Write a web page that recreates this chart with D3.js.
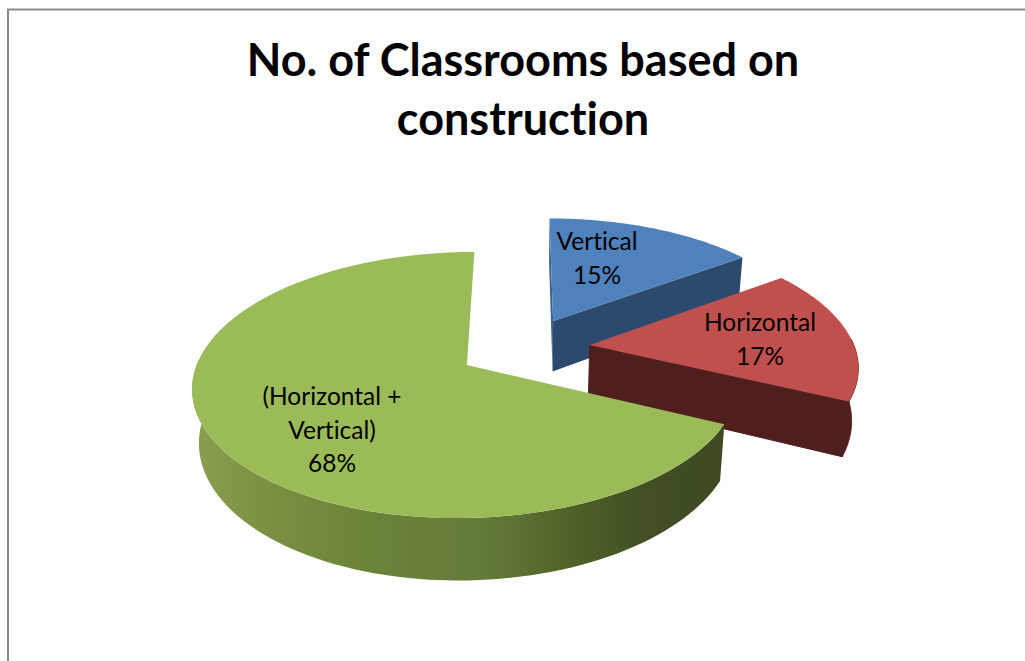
<!DOCTYPE html>
<html>
<head>
<meta charset="utf-8">
<script src="https://cdnjs.cloudflare.com/ajax/libs/d3/7.8.5/d3.min.js"></script>
<style>
  html, body { margin: 0; padding: 0; background: #fff; overflow: hidden; }
  text { font-family: Lato, "Open Sans", sans-serif; fill: #000; font-variant-ligatures: none; }
</style>
</head>
<body>
<div id="chart"></div>
<script>
const categories = ["Vertical", "Horizontal", "(Horizontal + Vertical)"];
const values = [15, 17, 68];
const titleLines = ["No. of Classrooms based on", "construction"];
const labelLines = [["Vertical"], ["Horizontal"], ["(Horizontal +", "Vertical)"]];
const topColors = ["#4f81bd", "#c0504d", "#9bbb59"];
const wallColors = ["#2c4a6e", "#4f1f1e", "#5f7535"];

const width = 1025, height = 661;

// 3D look of the pie
const cx = 524, cy = 348, rx = 265, ry = 125;
const persp = 0.147, depth = 52, shrink = 0.02, explode = 0.25;

const svg = d3.select("#chart").append("svg")
  .attr("width", width)
  .attr("height", height);

// frame, only top and left side are in the picture
svg.append("path")
  .attr("d", `M8,${height} V9.5 H${width}`)
  .attr("fill", "none")
  .attr("stroke", "#8a8a8a")
  .attr("stroke-width", 2);

svg.selectAll(".title")
  .data(titleLines)
  .enter()
  .append("text")
  .attr("class", "title")
  .attr("x", 523)
  .attr("y", (d, i) => 76 + i * 59)
  .attr("text-anchor", "middle")
  .style("font-size", "45px")
  .style("font-weight", "bold")
  .text(d => d);

const defs = svg.append("defs");
const greenWall = defs.append("linearGradient")
  .attr("id", "greenWall")
  .attr("gradientUnits", "userSpaceOnUse")
  .attr("x1", 190).attr("x2", 725)
  .attr("y1", 0).attr("y2", 0);
[[0, "#8ba050"], [0.1, "#7f9545"], [0.3, "#6d843a"], [0.55, "#647a38"], [0.7, "#506429"], [0.85, "#414f23"], [1, "#3d4a20"]]
  .forEach(s => greenWall.append("stop").attr("offset", s[0]).attr("stop-color", s[1]));

function project(u, v, z) {
  const s = 1 / (1 - persp * v);
  return [cx + rx * u * s / (1 + shrink * z * s), cy + (ry * v + depth * z) * s];
}

const slices = d3.pie().sort(null)(values);
const line = d3.line();

slices.forEach(d => {
  const mid = (d.startAngle + d.endAngle) / 2;
  d.u0 = explode * Math.sin(mid);
  d.v0 = -explode * Math.cos(mid);
});

function rim(d, a) {
  return [d.u0 + Math.sin(a), d.v0 - Math.cos(a)];
}

function arcPoints(d, a0, a1, z) {
  return d3.range(0, 81).map(i => {
    const p = rim(d, a0 + (a1 - a0) * i / 80);
    return project(p[0], p[1], z);
  });
}

function cutFace(d, a) {
  const p = rim(d, a);
  return [
    project(d.u0, d.v0, 0),
    project(p[0], p[1], 0),
    project(p[0], p[1], 1),
    project(d.u0, d.v0, 1)
  ];
}

function outerWall(d, a0, a1) {
  return arcPoints(d, a0, a1, 0).concat(arcPoints(d, a1, a0, 1));
}

const pieG = svg.append("g");

// blue: far slice first, only the cut side shows
pieG.append("path")
  .attr("d", line(cutFace(slices[0], slices[0].startAngle)) + "Z")
  .attr("fill", "#3c6290");
pieG.append("path")
  .attr("d", line(cutFace(slices[0], slices[0].endAngle)) + "Z")
  .attr("fill", wallColors[0]);

// red: front cut and the rim after the rightmost point
pieG.append("path")
  .attr("d", line(outerWall(slices[1], Math.PI / 2 - 0.05, slices[1].endAngle)) + "Z")
  .attr("fill", wallColors[1])
  .attr("stroke", wallColors[1]);
pieG.append("path")
  .attr("d", line(cutFace(slices[1], slices[1].endAngle)) + "Z")
  .attr("fill", wallColors[1])
  .attr("stroke", wallColors[1]);

// green: rim from the cut on the right round to the leftmost point
pieG.append("path")
  .attr("d", line(outerWall(slices[2], slices[2].startAngle, Math.PI * 1.5 + 0.05)) + "Z")
  .attr("fill", "url(#greenWall)");

// tops, drawn in same far to near order but green must cover red wall
[0, 1, 2].forEach(i => {
  const d = slices[i];
  const pts = [project(d.u0, d.v0, 0)].concat(arcPoints(d, d.startAngle, d.endAngle, 0));
  pieG.append("path")
    .attr("d", line(pts) + "Z")
    .attr("fill", topColors[i]);
});

// labels
const labelPos = [[597, 250], [760, 331], [332, 405]];
slices.forEach((d, i) => {
  const lines = labelLines[i].concat([values[i] + "%"]);
  svg.append("g").selectAll("text")
    .data(lines)
    .enter()
    .append("text")
    .attr("x", labelPos[i][0])
    .attr("y", (t, j) => labelPos[i][1] + j * 33.5)
    .attr("text-anchor", "middle")
    .style("font-size", "24.5px")
    .text(t => t);
});
</script>
</body>
</html>
